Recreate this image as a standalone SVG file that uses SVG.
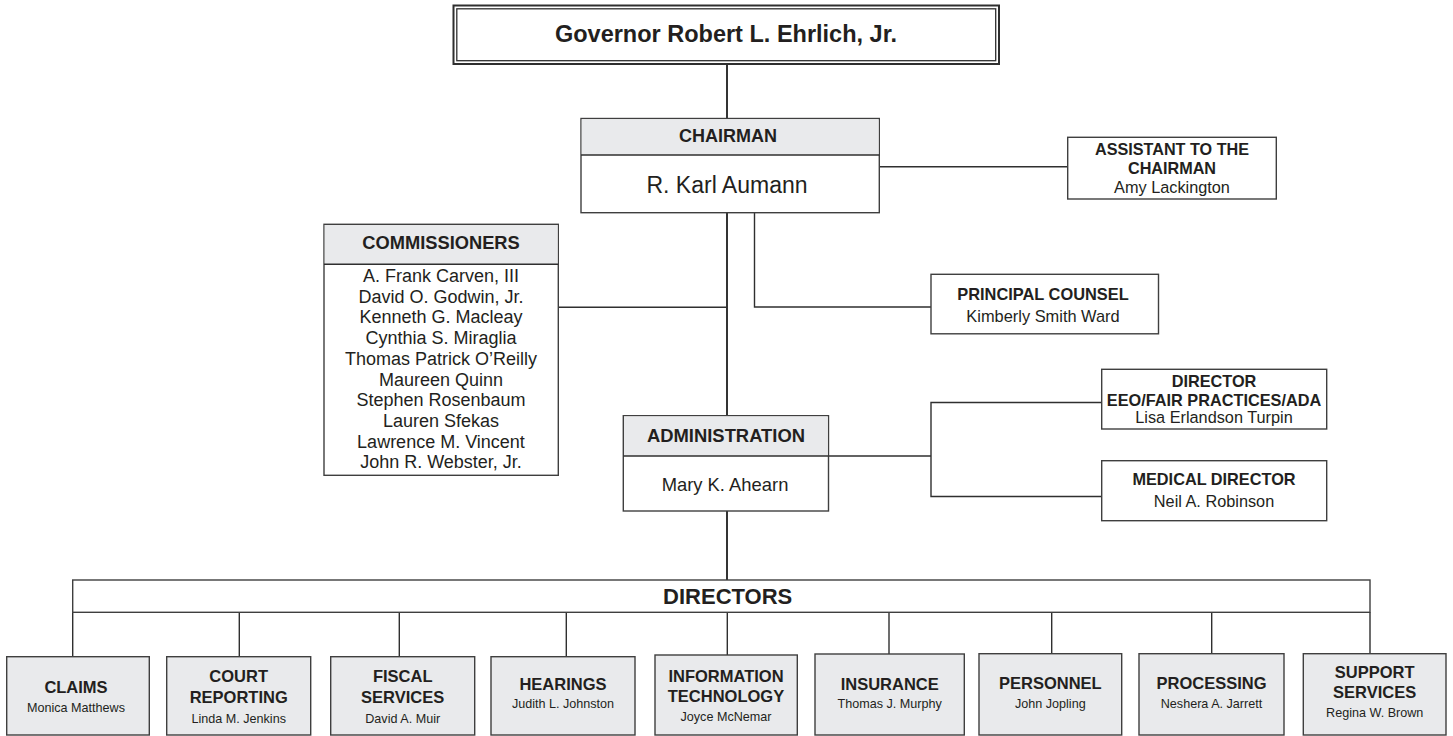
<svg xmlns="http://www.w3.org/2000/svg" width="1453" height="736" viewBox="0 0 1453 736">
<style>
text{font-family:"Liberation Sans",Arial,Helvetica,sans-serif;fill:#231f20;text-anchor:middle}
.b{font-weight:bold}
.box{fill:#fff;stroke:#3f3f3f;stroke-width:1.4}
.gbox{fill:#e9eaec;stroke:#3f3f3f;stroke-width:1.4}
.band{fill:#e9eaec;stroke:none}
.ln{fill:none;stroke:#2f2f2f;stroke-width:1.4}
.main{fill:none;stroke:#2a2a2a;stroke-width:1.9}
</style>
<rect width="1453" height="736" fill="#fff"/>
<g id="connectors">
<line class="main" x1="727" y1="64" x2="727" y2="118.5"/>
<line class="main" x1="727" y1="212.7" x2="727" y2="415.7"/>
<line class="main" x1="727" y1="511" x2="727" y2="580"/>
<polyline class="ln" points="754.5,212.7 754.5,307 931,307"/>
<line class="ln" x1="558.3" y1="307.3" x2="727" y2="307.3"/>
<line class="ln" x1="879.3" y1="166.7" x2="1067.7" y2="166.7"/>
<line class="ln" x1="828.5" y1="456" x2="931" y2="456"/>
<polyline class="ln" points="1101.7,402.5 931,402.5 931,496.5 1101.7,496.5"/>
<line class="ln" x1="72.7" y1="612.3" x2="72.7" y2="656.7"/>
<line class="ln" x1="239.3" y1="612.3" x2="239.3" y2="656.7"/>
<line class="ln" x1="399.3" y1="612.3" x2="399.3" y2="656.7"/>
<line class="ln" x1="566.3" y1="612.3" x2="566.3" y2="656.7"/>
<line class="ln" x1="727.3" y1="612.3" x2="727.3" y2="655"/>
<line class="ln" x1="889" y1="612.3" x2="889" y2="654"/>
<line class="ln" x1="1051.7" y1="612.3" x2="1051.7" y2="653.7"/>
<line class="ln" x1="1211.7" y1="612.3" x2="1211.7" y2="653.7"/>
<line class="ln" x1="1370" y1="612.3" x2="1370" y2="653.7"/>
</g>
<g id="governor">
<rect x="453.5" y="5.5" width="545.5" height="58.5" fill="#fff" stroke="#2f2f2f" stroke-width="2"/>
<rect x="456.8" y="8.8" width="538.9" height="51.9" fill="none" stroke="#2f2f2f" stroke-width="1.3"/>
<text class="b" x="726" y="41.7" font-size="23.5">Governor Robert L. Ehrlich, Jr.</text>
</g>
<g id="chairman">
<rect class="box" x="581" y="118.5" width="298.3" height="94.2"/>
<rect class="band" x="581.7" y="119.2" width="296.9" height="35.8"/>
<line class="ln" x1="581" y1="155" x2="879.3" y2="155"/>
<text class="b" x="728" y="142" font-size="18">CHAIRMAN</text>
<text x="727" y="193.3" font-size="23">R. Karl Aumann</text>
</g>
<g id="assistant">
<rect class="box" x="1067.7" y="137.3" width="208.6" height="61.7"/>
<text class="b" x="1172" y="155" font-size="16.2">ASSISTANT TO THE</text>
<text class="b" x="1172" y="174" font-size="16.2">CHAIRMAN</text>
<text x="1172" y="193.3" font-size="16.3">Amy Lackington</text>
</g>
<g id="commissioners">
<rect class="box" x="324" y="224.3" width="234.3" height="251"/>
<rect class="band" x="324.7" y="225" width="232.9" height="39.3"/>
<line class="ln" x1="324" y1="264.3" x2="558.3" y2="264.3"/>
<text class="b" x="441" y="249.3" font-size="18.3">COMMISSIONERS</text>
<text x="441" y="282" font-size="18">A. Frank Carven, III</text>
<text x="441" y="302.7" font-size="18">David O. Godwin, Jr.</text>
<text x="441" y="323.4" font-size="18">Kenneth G. Macleay</text>
<text x="441" y="344.1" font-size="18">Cynthia S. Miraglia</text>
<text x="441" y="364.8" font-size="18">Thomas Patrick O’Reilly</text>
<text x="441" y="385.5" font-size="18">Maureen Quinn</text>
<text x="441" y="406.2" font-size="18">Stephen Rosenbaum</text>
<text x="441" y="426.9" font-size="18">Lauren Sfekas</text>
<text x="441" y="447.6" font-size="18">Lawrence M. Vincent</text>
<text x="441" y="468.3" font-size="18">John R. Webster, Jr.</text>
</g>
<g id="principal-counsel">
<rect class="box" x="931" y="274.3" width="227.5" height="59.5"/>
<text class="b" x="1043" y="299.5" font-size="16.4">PRINCIPAL COUNSEL</text>
<text x="1043" y="321.5" font-size="16.4">Kimberly Smith Ward</text>
</g>
<g id="administration">
<rect class="box" x="623.3" y="415.7" width="205.2" height="95.3"/>
<rect class="band" x="624" y="416.4" width="203.8" height="39.6"/>
<line class="ln" x1="623.3" y1="456" x2="828.5" y2="456"/>
<text class="b" x="726" y="441.7" font-size="18.4">ADMINISTRATION</text>
<text x="725" y="490.7" font-size="18.4">Mary K. Ahearn</text>
</g>
<g id="eeo-director">
<rect class="box" x="1101.7" y="369.3" width="225" height="59.7"/>
<text class="b" x="1214" y="386.7" font-size="16.3">DIRECTOR</text>
<text class="b" x="1214" y="405.7" font-size="16.3">EEO/FAIR PRACTICES/ADA</text>
<text x="1214" y="423.3" font-size="16.3">Lisa Erlandson Turpin</text>
</g>
<g id="medical-director">
<rect class="box" x="1101.7" y="460.7" width="225" height="60"/>
<text class="b" x="1214" y="485" font-size="16.3">MEDICAL DIRECTOR</text>
<text x="1214" y="506.7" font-size="16.3">Neil A. Robinson</text>
</g>
<g id="directors">
<rect class="box" x="72.7" y="580" width="1297.3" height="32.3" fill="none"/>
<text class="b" x="727.7" y="604" font-size="22">DIRECTORS</text>
</g>
<g id="claims">
<rect class="gbox" x="6.7" y="656.7" width="142.6" height="78.3"/>
<text class="b" x="76" y="693.3" font-size="16.5">CLAIMS</text>
<text x="76" y="711.7" font-size="12.6">Monica Matthews</text>
</g>
<g id="court-reporting">
<rect class="gbox" x="166.7" y="656.7" width="144" height="78.3"/>
<text class="b" x="238.7" y="681.7" font-size="16.5">COURT</text>
<text class="b" x="238.7" y="703.3" font-size="16.5">REPORTING</text>
<text x="238.7" y="723.3" font-size="12.6">Linda M. Jenkins</text>
</g>
<g id="fiscal-services">
<rect class="gbox" x="330.7" y="656.7" width="144" height="78.3"/>
<text class="b" x="402.7" y="681.7" font-size="16.5">FISCAL</text>
<text class="b" x="402.7" y="703.3" font-size="16.5">SERVICES</text>
<text x="402.7" y="723.3" font-size="12.6">David A. Muir</text>
</g>
<g id="hearings">
<rect class="gbox" x="491" y="656.7" width="144" height="78.3"/>
<text class="b" x="563" y="690" font-size="16.5">HEARINGS</text>
<text x="563" y="708.3" font-size="12.6">Judith L. Johnston</text>
</g>
<g id="information-technology">
<rect class="gbox" x="655" y="655" width="142.3" height="80"/>
<text class="b" x="726" y="681.7" font-size="16.5">INFORMATION</text>
<text class="b" x="726" y="701.7" font-size="16.5">TECHNOLOGY</text>
<text x="726" y="721" font-size="12.6">Joyce McNemar</text>
</g>
<g id="insurance">
<rect class="gbox" x="815" y="654" width="149.3" height="81"/>
<text class="b" x="889.7" y="690" font-size="16.5">INSURANCE</text>
<text x="889.7" y="708.3" font-size="12.6">Thomas J. Murphy</text>
</g>
<g id="personnel">
<rect class="gbox" x="979" y="653.7" width="142.7" height="81.3"/>
<text class="b" x="1050.3" y="689.3" font-size="16.5">PERSONNEL</text>
<text x="1050.3" y="708.3" font-size="12.6">John Jopling</text>
</g>
<g id="processing">
<rect class="gbox" x="1139" y="653.7" width="145" height="81.3"/>
<text class="b" x="1211.5" y="689.3" font-size="16.5">PROCESSING</text>
<text x="1211.5" y="708.3" font-size="12.6">Neshera A. Jarrett</text>
</g>
<g id="support-services">
<rect class="gbox" x="1303.3" y="653.7" width="142.7" height="81.3"/>
<text class="b" x="1374.7" y="678.3" font-size="16.5">SUPPORT</text>
<text class="b" x="1374.7" y="697.7" font-size="16.5">SERVICES</text>
<text x="1374.7" y="716.7" font-size="12.6">Regina W. Brown</text>
</g>
</svg>
